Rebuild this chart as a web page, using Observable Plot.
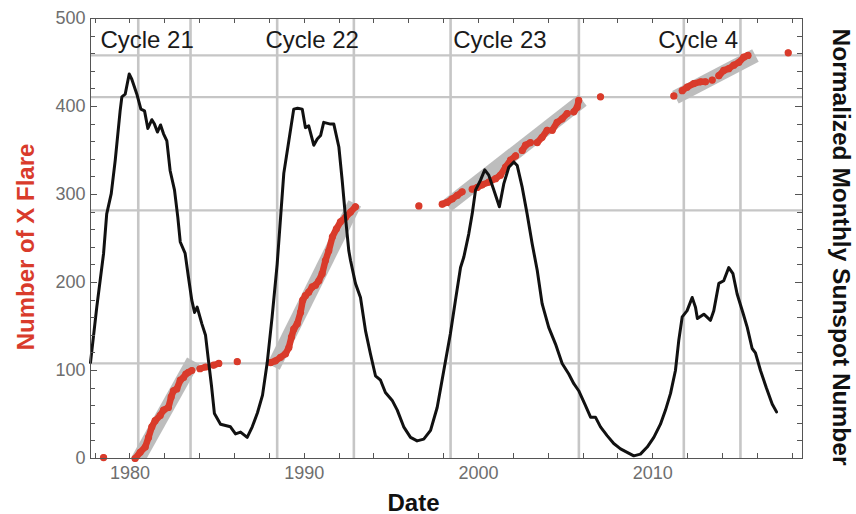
<!DOCTYPE html>
<html>
<head>
<meta charset="utf-8">
<script src="https://cdn.jsdelivr.net/npm/d3@7"></script>
<script src="https://cdn.jsdelivr.net/npm/@observablehq/plot@0.6"></script>
<style>
  html, body { margin: 0; padding: 0; background: #fff; }
  svg { display: block; }
</style>
</head>
<body>
<div id="chart"></div>
<script>
// ---------- data ----------
const sunspotYear = [
  1977.74, 1978.10, 1978.49, 1978.67, 1978.93, 1979.16, 1979.44, 1979.54, 1979.73, 1979.96,
  1980.11, 1980.40, 1980.63, 1980.84, 1981.03, 1981.26, 1981.41, 1981.58, 1981.76, 1981.93,
  1982.12, 1982.31, 1982.56, 1982.75, 1982.89, 1983.17, 1983.36, 1983.55, 1983.71, 1983.86,
  1984.13, 1984.34, 1984.51, 1984.68, 1984.85, 1985.20, 1985.77, 1986.06, 1986.35, 1986.73,
  1987.02, 1987.32, 1987.61, 1987.88, 1988.16, 1988.45, 1988.83, 1989.12, 1989.40, 1989.62,
  1989.89, 1990.07, 1990.26, 1990.55, 1990.75, 1990.94, 1991.12, 1991.51, 1991.70, 1991.99,
  1992.18, 1992.37, 1992.56, 1992.66, 1992.94, 1993.23, 1993.52, 1993.80, 1994.09, 1994.38,
  1994.66, 1995.05, 1995.34, 1995.71, 1996.10, 1996.48, 1996.86, 1997.25, 1997.63, 1998.01,
  1998.39, 1998.68, 1998.97, 1999.16, 1999.44, 1999.64, 1999.83, 2000.11, 2000.36, 2000.59,
  2000.88, 2001.20, 2001.45, 2001.74, 2002.03, 2002.22, 2002.51, 2002.79, 2003.08, 2003.37,
  2003.65, 2004.03, 2004.42, 2004.80, 2005.18, 2005.47, 2005.75, 2006.14, 2006.43, 2006.71,
  2007.00, 2007.38, 2007.76, 2008.15, 2008.53, 2008.91, 2009.29, 2009.68, 2010.06, 2010.44,
  2010.73, 2011.02, 2011.30, 2011.49, 2011.69, 2011.97, 2012.26, 2012.45, 2012.56, 2012.93,
  2013.31, 2013.50, 2013.79, 2014.07, 2014.36, 2014.60, 2014.84, 2015.18, 2015.42, 2015.70,
  2015.89, 2016.18, 2016.52, 2016.85, 2017.10
];
const sunspotValue = [
  109, 172, 233, 278, 301, 339, 395, 411, 414, 437,
  431, 414, 397, 395, 375, 385, 380, 371, 379, 369,
  361, 327, 305, 274, 246, 233, 206, 180, 166, 172,
  153, 140, 111, 83, 51, 39, 36, 28, 30, 24,
  36, 52, 72, 109, 161, 221, 324, 361, 397, 398,
  397, 376, 378, 356, 363, 367, 382, 380, 380, 354,
  316, 274, 236, 225, 199, 183, 145, 119, 94, 89,
  75, 66, 55, 36, 24, 20, 22, 32, 58, 100,
  142, 180, 217, 229, 255, 278, 305, 316, 328, 322,
  305, 286, 312, 331, 337, 333, 308, 278, 244, 214,
  176, 149, 130, 108, 96, 85, 77, 60, 47, 47,
  36, 26, 17, 11, 7, 3, 5, 13, 24, 39,
  55, 74, 100, 134, 161, 168, 183, 172, 159, 164,
  157, 168, 199, 202, 217, 210, 187, 165, 149, 125,
  120, 100, 80, 62, 53
];

// cumulative X-flare count (run = group of touching dots)
const flareYear = [
  1978.49,
  1980.30, 1980.59, 1980.88, 1981.07, 1981.26, 1981.45, 1981.74, 1981.93, 1982.21, 1982.37, 1982.50, 1982.69, 1982.89, 1983.08, 1983.21, 1983.36, 1983.55,
  1984.02, 1984.34,
  1984.80, 1985.10,
  1986.16,
  1988.07, 1988.35, 1988.64, 1988.93, 1989.12, 1989.27, 1989.40, 1989.60, 1989.79, 1989.92, 1990.07, 1990.26, 1990.46, 1990.65, 1990.84, 1991.03, 1991.22, 1991.41, 1991.62, 1991.85, 1992.08, 1992.37, 1992.66, 1992.94,
  1996.58,
  1997.92, 1998.20, 1998.49, 1998.78, 1999.06,
  1999.64, 1999.93, 2000.21, 2000.59, 2000.98, 2001.26, 2001.55, 2001.84, 2002.13,
  2002.51, 2002.70, 2002.98,
  2003.37, 2003.65, 2003.94,
  2004.23, 2004.51, 2004.80, 2005.09,
  2005.47, 2005.66, 2005.75,
  2007.00,
  2011.21,
  2011.69, 2011.97, 2012.35, 2012.74, 2013.02,
  2013.41,
  2013.79, 2014.07, 2014.36, 2014.65, 2014.93, 2015.22, 2015.46,
  2017.77
];
const flareCount = [
  1,
  0, 7, 13, 24, 36, 43, 49, 55, 58, 70, 77, 79, 89, 92, 96, 98, 100,
  102, 104,
  106, 108,
  110,
  109, 111, 115, 119, 126, 138, 147, 153, 166, 180, 185, 189, 195, 197, 202, 210, 225, 236, 252, 261, 269, 274, 280, 286,
  287,
  289, 291, 295, 299, 303,
  306, 308, 311, 314, 318, 322, 331, 339, 344,
  350, 356, 359,
  359, 365, 373,
  373, 382, 386, 392,
  394, 399, 407,
  411,
  412,
  418, 422, 426, 428, 428,
  430,
  435, 441, 443, 447, 450, 456, 458,
  461
];
const flareRun = [
  0,
  1, 1, 1, 1, 1, 1, 1, 1, 1, 1, 1, 1, 1, 1, 1, 1, 1,
  2, 2,
  3, 3,
  4,
  5, 5, 5, 5, 5, 5, 5, 5, 5, 5, 5, 5, 5, 5, 5, 5, 5, 5, 5, 5, 5, 5, 5, 5,
  6,
  7, 7, 7, 7, 7,
  8, 8, 8, 8, 8, 8, 8, 8, 8,
  9, 9, 9,
  10, 10, 10,
  11, 11, 11, 11,
  12, 12, 12,
  13,
  14,
  15, 15, 15, 15, 15,
  16,
  17, 17, 17, 17, 17, 17, 17,
  18
];

// linear-trend bands per cycle
const bandStartYear = [1980.36, 1988.24, 1998.22, 2011.30];
const bandStartCount = [-5, 104.5, 287.5, 410.6];
const bandEndYear = [1983.63, 1992.90, 2005.96, 2015.89];
const bandEndCount = [111, 290, 407, 458];

// reference lines
const refYears = [1980.48, 1983.48, 1988.45, 1992.85, 1998.40, 2005.76, 2011.78, 2015.03];
const refCounts = [108, 282, 410.6, 458];

// labels
const cycleLabels = ["Cycle 21", "Cycle 22", "Cycle 23", "Cycle 4"];
const cycleLabelYear = [1978.31, 1987.78, 1998.55, 2010.31];
const cycleLabelCount = [466, 466, 466, 466];

const xTickLabels = [1980, 1990, 2000, 2010];
const yTickLabels = [0, 100, 200, 300, 400, 500];
const xMinorTicks = d3.range(1978, 2019, 2);
const yMinorTicks = d3.range(20, 500, 20);

// ---------- tables ----------
const sunspot = sunspotYear.map((year, i) => ({year, value: sunspotValue[i]}));
const flares = flareYear.map((year, i) => ({year, count: flareCount[i], run: flareRun[i]}));
const bands = bandStartYear.map((y1, i) => ({x1: y1, y1: bandStartCount[i], x2: bandEndYear[i], y2: bandEndCount[i]}));
const cycles = cycleLabels.map((t, i) => ({t, year: cycleLabelYear[i], count: cycleLabelCount[i]}));

const FONT = "'Liberation Sans', Arial, Helvetica, sans-serif";
const RED = "#d93b2b";
const GRID = "#c6c6c6";

// inward ticks on all four sides of the frame
function frameTicks(index, scales, values, dimensions) {
  const {x, y} = scales;
  const {width, height, marginLeft, marginRight, marginTop, marginBottom} = dimensions;
  const L = marginLeft, R = width - marginRight, T = marginTop, B = height - marginBottom;
  const g = d3.create("svg:g").attr("stroke", "#555").attr("stroke-width", 1).attr("fill", "none");
  for (const v of yMinorTicks) {
    const py = Math.round(y(v)) + 0.5;
    const len = v % 100 === 0 ? 7 : 5;
    g.append("line").attr("x1", L).attr("x2", L + len).attr("y1", py).attr("y2", py);
    g.append("line").attr("x1", R).attr("x2", R - len).attr("y1", py).attr("y2", py);
  }
  for (const v of xMinorTicks) {
    const px = Math.round(x(v)) + 0.5;
    const len = 5;
    g.append("line").attr("x1", px).attr("x2", px).attr("y1", B).attr("y2", B - len);
    g.append("line").attr("x1", px).attr("x2", px).attr("y1", T).attr("y2", T + len);
  }
  return g.node();
}

const chart = Plot.plot({
  width: 856,
  height: 514,
  marginLeft: 90,
  marginRight: 54,
  marginTop: 18,
  marginBottom: 56,
  x: {domain: [1977.74, 2018.59]},
  y: {domain: [0, 500]},
  style: {fontFamily: FONT, background: "#fff", overflow: "visible"},
  marks: [
    Plot.ruleY(refCounts, {stroke: GRID, strokeWidth: 2.2}),
    Plot.ruleX(refYears, {stroke: GRID, strokeWidth: 2.6}),
    Plot.link(bands, {x1: "x1", y1: "y1", x2: "x2", y2: "y2", stroke: "#bdbdbd", strokeWidth: 14, strokeLinecap: "butt", clip: true}),
    Plot.line(flares, {x: "year", y: "count", z: "run", stroke: RED, strokeWidth: 6.5, strokeLinecap: "round", strokeLinejoin: "round"}),
    Plot.dot(flares, {x: "year", y: "count", r: 3.6, fill: RED, stroke: null}),
    Plot.line(sunspot, {x: "year", y: "value", stroke: "#111", strokeWidth: 3, strokeLinejoin: "round"}),
    Plot.frame({stroke: "#555", strokeWidth: 1}),
    frameTicks,
    Plot.axisX({ticks: xTickLabels, tickFormat: "d", tickSize: 0, tickPadding: 8, fontSize: 18, color: "#6e6e6e", label: null}),
    Plot.axisY({ticks: yTickLabels, tickFormat: "d", tickSize: 0, tickPadding: 5, fontSize: 18, color: "#6e6e6e", label: null}),
    Plot.text(cycles, {x: "year", y: "count", text: "t", textAnchor: "start", lineAnchor: "bottom", fontSize: 24, fill: "#1a1a1a"}),
    Plot.text(["Date"], {text: d => d, frameAnchor: "bottom", textAnchor: "middle", lineAnchor: "bottom", dx: -33, dy: 52, fontSize: 24, fontWeight: "bold", fill: "#111"}),
    Plot.text(["Number of X Flare"], {text: d => d, frameAnchor: "left", textAnchor: "middle", lineAnchor: "bottom", rotate: -90, dx: -57, dy: 8.5, fontSize: 24, fontWeight: "bold", fill: RED}),
    Plot.text(["Normalized Monthly Sunspot Number"], {text: d => d, frameAnchor: "right", textAnchor: "middle", lineAnchor: "bottom", rotate: 90, dx: 30, dy: 8.5, fontSize: 24.5, fontWeight: "bold", fill: "#111"})
  ]
});
document.getElementById("chart").appendChild(chart);
</script>
</body>
</html>
